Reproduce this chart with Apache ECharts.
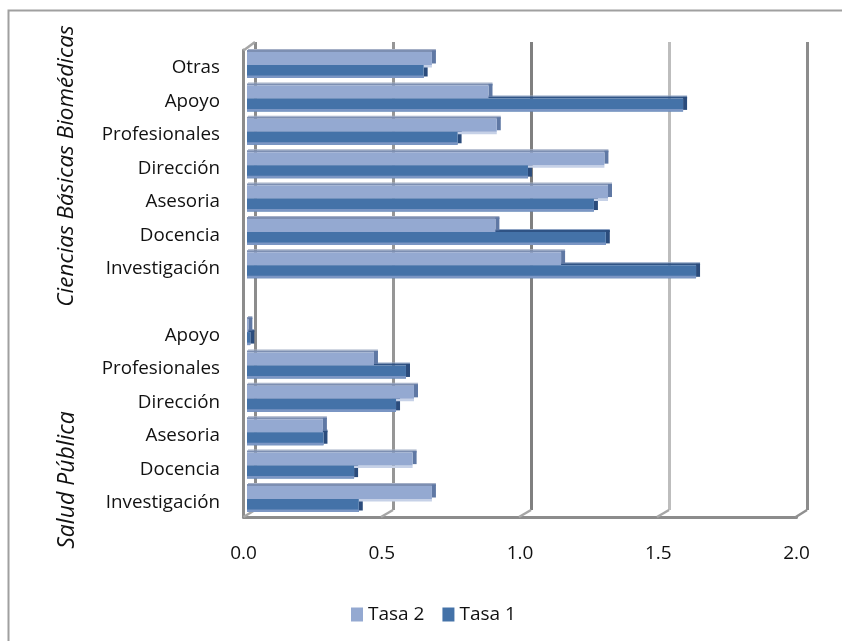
<!DOCTYPE html>
<html>
<head>
<meta charset="utf-8">
<style>html,body{margin:0;padding:0;background:#fff}#c{width:842px;height:641px}</style>
<script src="https://cdn.jsdelivr.net/npm/echarts@6/dist/echarts.min.js"></script>
</head>
<body>
<div id="c"></div>
<script>
// Listed from the bottom row upward
const categories = ['Investigación','Docencia','Asesoria','Dirección','Profesionales','Apoyo','',
                    'Investigación','Docencia','Asesoria','Dirección','Profesionales','Apoyo','Otras'];
const tasa1 = [0.405,0.388,0.277,0.54,0.576,0.012,null,1.627,1.30,1.257,1.018,0.763,1.58,0.64];
const tasa2 = [0.67,0.60,0.275,0.605,0.46,0.005,null,1.138,0.90,1.308,1.295,0.905,0.875,0.67];
const groupLabels = ['Ciencias Básicas Biomédicas','Salud Pública'];

const FONT = '"Open Sans", sans-serif';
const BW = 13;

function bevel(offset, topCol, topEdge, sideCol, bottomCol) {
  return function (params, api) {
    const v = api.value(0), idx = api.value(1);
    if (v == null || isNaN(v)) return;
    const p0 = api.coord([0, idx]), p1 = api.coord([v, idx]);
    const top = p0[1] + offset - BW / 2, bot = top + BW;
    const x0 = p0[0], x1 = p1[0];
    const kids = [
      {type:'rect', shape:{x:x0+1, y:top-3, width:x1-x0+3, height:1}, style:{fill:topEdge}},
      {type:'rect', shape:{x:x0, y:top-2, width:x1-x0+4, height:2}, style:{fill:topCol}},
      {type:'rect', shape:{x:x1, y:top-1.5, width:4, height:BW}, style:{fill:sideCol}}
    ];
    if (bottomCol) kids.push({type:'rect', shape:{x:x0, y:bot, width:x1-x0, height:2.5}, style:{fill:bottomCol}});
    return {type:'group', children:kids};
  };
}
// lighter lower edge painted on the dark bar's face
function lowerEdge(offset, col) {
  return function (params, api) {
    const v = api.value(0), idx = api.value(1);
    if (v == null || isNaN(v)) return;
    const p0 = api.coord([0, idx]), p1 = api.coord([v, idx]);
    const bot = p0[1] + offset + BW / 2;
    return {type:'rect', shape:{x:p0[0], y:bot-2.5, width:p1[0]-p0[0], height:2.5}, style:{fill:col}};
  };
}
const pairs = a => a.map((v, i) => [v, i]);

const diag = (x0, y0, x1, y1, c) => ({type:'line', z:1, shape:{x1:x0,y1:y0,x2:x1,y2:y1}, style:{stroke:c, lineWidth:2.5}});
const graphics = [
  {type:'polyline', z:0, shape:{points:[[8.5,641],[8.5,10.5],[842,10.5]]}, style:{stroke:'#a0a0a0', lineWidth:2, fill:null}},
  diag(243.5,50.5,255,42,'#a6a6a6'),
  diag(243.5,517,255,510,'#a6a6a6'),
  diag(381,517,393,510,'#a6a6a6'),
  diag(519,517,531,510,'#a6a6a6'),
  diag(657,517,669,510,'#a6a6a6'),
  diag(795,517.5,807,510,'#909090'),
  {type:'text', z:5, x:67, y:166, rotation:Math.PI/2, style:{text:groupLabels[0], font:'italic 22.5px '+FONT, fill:'#111', align:'center', verticalAlign:'middle'}},
  {type:'text', z:5, x:67, y:480, rotation:Math.PI/2, style:{text:groupLabels[1], font:'italic 23px '+FONT, fill:'#111', align:'center', verticalAlign:'middle'}}
];

const chart = echarts.init(document.getElementById('c'), null, {renderer:'canvas'});
chart.setOption({
  animation:false,
  backgroundColor:'#fff',
  legend:{
    data:['Tasa 2','Tasa 1'], left:351, top:605, padding:0, icon:'rect', itemWidth:12, itemHeight:14, itemGap:18, itemStyle:{borderWidth:0},
    textStyle:{fontFamily:FONT, fontSize:19, color:'#111'}, selectedMode:false
  },
  graphic:graphics,
  grid:[
    {left:255, top:42, width:552, height:468},     // back wall
    {left:247, top:48.3, width:552, height:467.4}, // bars
    {left:243.5, top:50, width:553, height:467},   // front axes
    {left:247, top:51.3, width:552, height:468.3}  // category labels
  ],
  xAxis:[
    {gridIndex:0, type:'value', min:0, max:2, interval:0.5, axisLine:{show:false}, axisTick:{show:false}, axisLabel:{show:false},
     splitLine:{show:true, lineStyle:{color:['#8c8c8c','#969696','#808080','#bdbdbd','#8c8c8c'], width:3}}},
    {gridIndex:1, type:'value', min:0, max:2, interval:0.5, show:false, splitLine:{show:false}},
    {gridIndex:2, type:'value', min:0, max:2, interval:0.5, splitLine:{show:false}, axisTick:{show:false},
     axisLine:{show:true, onZero:false, lineStyle:{color:'#8c8c8c', width:3}},
     axisLabel:{margin:27, fontFamily:FONT, fontSize:19, color:'#111', formatter:v=>v.toFixed(1)}},
    {gridIndex:3, type:'value', min:0, max:2, interval:0.5, show:false, splitLine:{show:false}}
  ],
  yAxis:[
    {gridIndex:0, type:'value', min:0, max:1, show:false, splitLine:{show:false}},
    {gridIndex:1, type:'category', data:categories, show:false},
    {gridIndex:2, type:'value', min:0, max:1, splitLine:{show:false}, axisTick:{show:false}, axisLabel:{show:false},
     axisLine:{show:true, onZero:false, lineStyle:{color:'#8c8c8c', width:3}}},
    {gridIndex:3, type:'category', data:categories, axisLine:{show:false}, axisTick:{show:false}, splitLine:{show:false},
     axisLabel:{interval:0, margin:27, fontFamily:FONT, fontSize:18.8, color:'#111', align:'right'}}
  ],
  series:[
    {name:'bevel1', type:'custom', xAxisIndex:1, yAxisIndex:1, z:2, silent:true, clip:false,
     encode:{x:0,y:1}, data:pairs(tasa1), renderItem:bevel(6.5,'#2f5385','#8ea3c4','#2b4c7c',null)},
    {name:'bevel2', type:'custom', xAxisIndex:1, yAxisIndex:1, z:2, silent:true, clip:false,
     encode:{x:0,y:1}, data:pairs(tasa2), renderItem:bevel(-6.5,'#7d8fb2','#a4afc6','#5f78a4','#c6d1e7')},
    {name:'Tasa 2', type:'bar', xAxisIndex:1, yAxisIndex:1, z:3, data:tasa2, barWidth:BW, barGap:'0%',
     itemStyle:{color:'#94a9d1'}},
    {name:'Tasa 1', type:'bar', xAxisIndex:1, yAxisIndex:1, z:3, data:tasa1, barWidth:BW, barGap:'0%',
     itemStyle:{color:'#4472a8'}},
    {name:'edge1', type:'custom', xAxisIndex:1, yAxisIndex:1, z:4, silent:true, clip:false,
     encode:{x:0,y:1}, data:pairs(tasa1), renderItem:lowerEdge(6.5,'#7b96c4')}
  ]
});
</script>
</body>
</html>
